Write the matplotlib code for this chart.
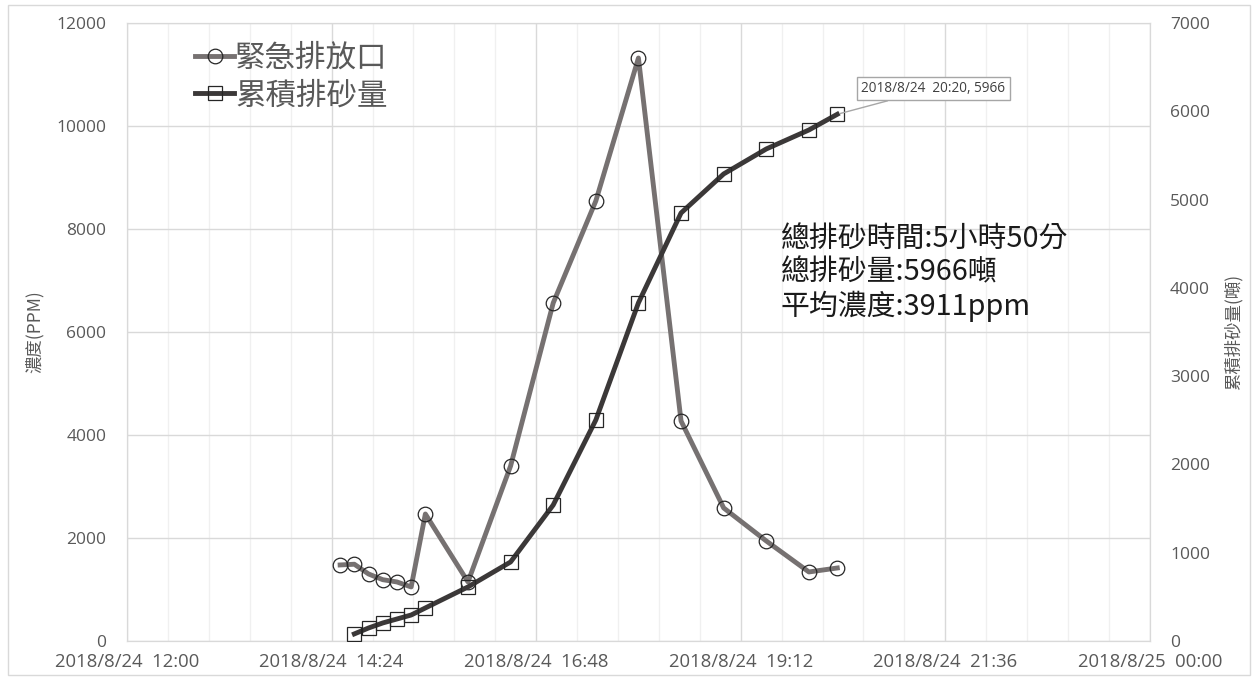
import numpy as np
import pandas as pd
import matplotlib
matplotlib.use("Agg")
import matplotlib.pyplot as plt
import matplotlib.dates as mdates
from matplotlib.ticker import FuncFormatter, MultipleLocator, FixedLocator
from matplotlib.patches import Rectangle

plt.rcParams['font.family'] = ['Open Sans', 'Noto Sans CJK TC', 'DejaVu Sans']
CJK = ['Noto Sans CJK TC', 'DejaVu Sans']

# concentration at the emergency outlet (ppm)
conc_times = ["2018-08-24 14:30", "2018-08-24 14:40", "2018-08-24 14:50", "2018-08-24 15:00",
              "2018-08-24 15:10", "2018-08-24 15:20", "2018-08-24 15:30", "2018-08-24 16:00",
              "2018-08-24 16:30", "2018-08-24 17:00", "2018-08-24 17:30", "2018-08-24 18:00",
              "2018-08-24 18:30", "2018-08-24 19:00", "2018-08-24 19:30", "2018-08-24 20:00",
              "2018-08-24 20:20"]
conc_values = [1476, 1490, 1301, 1190, 1146, 1049, 2466, 1146, 3398, 6563, 8544, 11320,
               4272, 2583, 1942, 1340, 1417]

# cumulative sediment discharged (tonnes)
cum_times = ["2018-08-24 14:40", "2018-08-24 14:50", "2018-08-24 15:00", "2018-08-24 15:10",
             "2018-08-24 15:20", "2018-08-24 15:30", "2018-08-24 16:00", "2018-08-24 16:30",
             "2018-08-24 17:00", "2018-08-24 17:30", "2018-08-24 18:00", "2018-08-24 18:30",
             "2018-08-24 19:00", "2018-08-24 19:30", "2018-08-24 20:00", "2018-08-24 20:20"]
cum_values = [80, 147, 204, 249, 294, 374, 612, 895, 1540, 2503, 3830, 4848, 5290, 5573,
              5788, 5966]

series_names = ["緊急排放口", "累積排砂量"]
left_label = "濃度(PPM)"
right_label = "累積排砂量(噸)"
summary_lines = ["總排砂時間:5小時50分", "總排砂量:5966噸", "平均濃度:3911ppm"]
callout_text = "2018/8/24  20:20, 5966"

x_start = mdates.date2num(pd.Timestamp("2018-08-24 12:00"))
x_end = mdates.date2num(pd.Timestamp("2018-08-25 00:00"))

tc = mdates.date2num(pd.to_datetime(conc_times))
tq = mdates.date2num(pd.to_datetime(cum_times))

fig = plt.figure(figsize=(12.58, 6.80), dpi=100)
fig.patches.append(Rectangle((0.006, 0.007), 0.988, 0.985, transform=fig.transFigure,
                             fill=False, edgecolor="#d9d9d9", linewidth=1))
ax = fig.add_axes([0.101, 0.0574, 0.813, 0.9088])
ax2 = ax.twinx()

ax.set_xlim(x_start, x_end)
ax.set_ylim(0, 12000)
ax2.set_ylim(0, 7000)

ax.xaxis.set_major_locator(FixedLocator(np.linspace(x_start, x_end, 6)))
ax.xaxis.set_minor_locator(FixedLocator(np.linspace(x_start, x_end, 26)))


def fmt_date(v, pos=None):
    ts = pd.Timestamp(mdates.num2date(v).replace(tzinfo=None)).round("min")
    return f"{ts.year}/{ts.month}/{ts.day}  {ts.hour:02d}:{ts.minute:02d}"


ax.xaxis.set_major_formatter(FuncFormatter(fmt_date))
ax.yaxis.set_major_locator(MultipleLocator(2000))
ax2.yaxis.set_major_locator(MultipleLocator(1000))

ax.grid(which="major", axis="both", color="#d9d9d9", linewidth=1)
ax.grid(which="minor", axis="x", color="#f0f0f0", linewidth=1)
ax.set_axisbelow(True)

for a in (ax, ax2):
    for s in a.spines.values():
        s.set_color("#d9d9d9")
    a.tick_params(which="both", length=0, labelsize=12.5, labelcolor="#595959")
ax.tick_params(axis="x", pad=9, labelsize=13.3)
ax.tick_params(axis="y", pad=15)
ax2.tick_params(axis="y", pad=14.5)

ax.set_ylabel(left_label, fontsize=12.5, color="#595959", labelpad=9, family=CJK)
ax2.set_ylabel(right_label, fontsize=12.5, color="#595959", labelpad=10, family=CJK)

l1, = ax.plot(tc, conc_values, color="#767171", linewidth=3.5, marker="o", markersize=10.5,
              markerfacecolor="none", markeredgecolor="#262626", markeredgewidth=0.9,
              zorder=3)
l2, = ax2.plot(tq, cum_values, color="#3b3838", linewidth=3.5, marker="s", markersize=10.5,
               markerfacecolor="none", markeredgecolor="#262626", markeredgewidth=0.9,
               zorder=3)

leg = ax.legend([l1, l2], series_names, loc="upper left", bbox_to_anchor=(0.040, 1.012),
                frameon=False, handlelength=1.25, handletextpad=0.05, labelspacing=0.2,
                prop={'family': CJK, 'size': 22, 'weight': 'light'})
for t in leg.get_texts():
    t.set_color("#595959")

ax.text(mdates.date2num(pd.Timestamp("2018-08-24 19:40")), 8080, "\n".join(summary_lines),
        fontsize=20.8, color="#1a1a1a", va="top", ha="left", linespacing=1.13,
        family=CJK)

ax2.annotate(callout_text, xy=(tq[-1], cum_values[-1]),
             xytext=(mdates.date2num(pd.Timestamp("2018-08-24 20:37")), 6170),
             fontsize=9.8, color="#404040", ha="left", va="bottom",
             bbox=dict(boxstyle="square,pad=0.3", fc="white", ec="#a6a6a6", lw=1),
             arrowprops=dict(arrowstyle="-", color="#a6a6a6", lw=1,
                             shrinkA=0, shrinkB=2,
                             relpos=(0.3, 0.0)),
             zorder=5)

fig.savefig("out.png", dpi=100)
